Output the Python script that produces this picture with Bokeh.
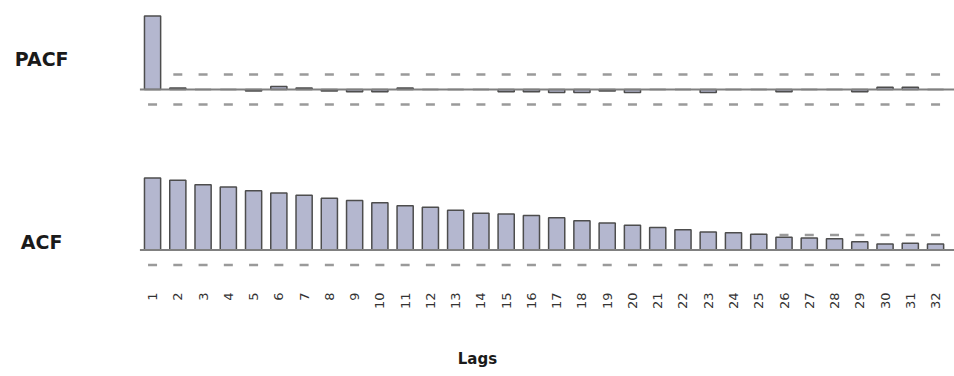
from math import pi
from bokeh.plotting import figure
from bokeh.layouts import column
from bokeh.models import Range1d, FixedTicker, Label, ColumnDataSource
from bokeh.embed import file_html
from bokeh.resources import INLINE

# ---- data ----
lags = list(range(1, 33))
pacf = [0.98, 0.02, 0.0, 0.0, -0.02, 0.04, 0.02, -0.02, -0.03, -0.03, 0.02, 0.0,
        0.0, 0.0, -0.03, -0.03, -0.04, -0.04, -0.02, -0.04, 0.0, 0.0, -0.04, 0.0,
        0.0, -0.03, 0.0, 0.0, -0.03, 0.03, 0.03, 0.0]
acf = [0.96, 0.93, 0.87, 0.84, 0.79, 0.76, 0.73, 0.69, 0.66, 0.63, 0.59, 0.57,
       0.53, 0.49, 0.48, 0.46, 0.43, 0.39, 0.36, 0.33, 0.30, 0.27, 0.24, 0.23,
       0.21, 0.17, 0.16, 0.15, 0.11, 0.08, 0.09, 0.08]
conf_upper = [0.2] * 32
conf_lower = [-0.2] * 32
tick_labels = [str(l) for l in lags]

BAR_FILL = "#b4b7cf"
BAR_LINE = "#4d4d4d"
DASH_COL = "#9a9a9a"
BASE_COL = "#808080"

xr = Range1d(-5.02, 32.75)


def style(p):
    p.grid.visible = False
    p.outline_line_color = None
    p.background_fill_color = "white"
    p.border_fill_color = "white"


def panel(values, yrange, fh, name, label_y):
    p = figure(frame_width=954, frame_height=fh, x_range=xr, y_range=yrange,
               output_backend="svg", toolbar_location=None, min_border=0)
    style(p)
    src = ColumnDataSource(dict(lag=lags, val=values, up=conf_upper, lo=conf_lower))
    p.scatter("lag", "up", source=src, marker="dash", size=9, line_width=2.5,
              line_color=DASH_COL)
    p.scatter("lag", "lo", source=src, marker="dash", size=9, line_width=2.5,
              line_color=DASH_COL)
    p.vbar(x="lag", top="val", bottom=0, width=0.64, source=src,
           fill_color=BAR_FILL, line_color=BAR_LINE, line_width=1.5)
    p.segment(x0=[lags[0] - 0.5], y0=[0], x1=[lags[-1] + 1.5], y1=[0],
              line_color=BASE_COL, line_width=2)
    p.add_layout(Label(x=-3.39, y=label_y, text=name, text_align="center",
                       text_baseline="middle", text_font="DejaVu Sans",
                       text_font_style="bold", text_font_size="19px",
                       text_color="#1a1a1a"))
    return p


p1 = panel(pacf, Range1d(-1.08, 1.187), 170, "PACF", 0.41)
p1.axis.visible = False

p2 = panel(acf, Range1d(-0.433, 1.06), 112, "ACF", 0.11)
p2.yaxis.visible = False
ax = p2.xaxis[0]
ax.ticker = FixedTicker(ticks=lags)
ax.major_label_overrides = {l: t for l, t in zip(lags, tick_labels)}
ax.major_label_orientation = pi / 2
ax.axis_line_color = None
ax.major_tick_line_color = None
ax.minor_tick_line_color = None
ax.major_label_standoff = 4
ax.major_label_text_font = "DejaVu Sans"
ax.major_label_text_font_size = "13px"
ax.major_label_text_color = "#333333"
ax.axis_label = "Lags"
ax.axis_label_text_font = "DejaVu Sans"
ax.axis_label_text_font_style = "bold"
ax.axis_label_text_font_size = "15px"
ax.axis_label_text_color = "#1a1a1a"
ax.axis_label_standoff = 38

layout = column(p1, p2, spacing=0)
open("out.html", "w").write(file_html(layout, INLINE))
